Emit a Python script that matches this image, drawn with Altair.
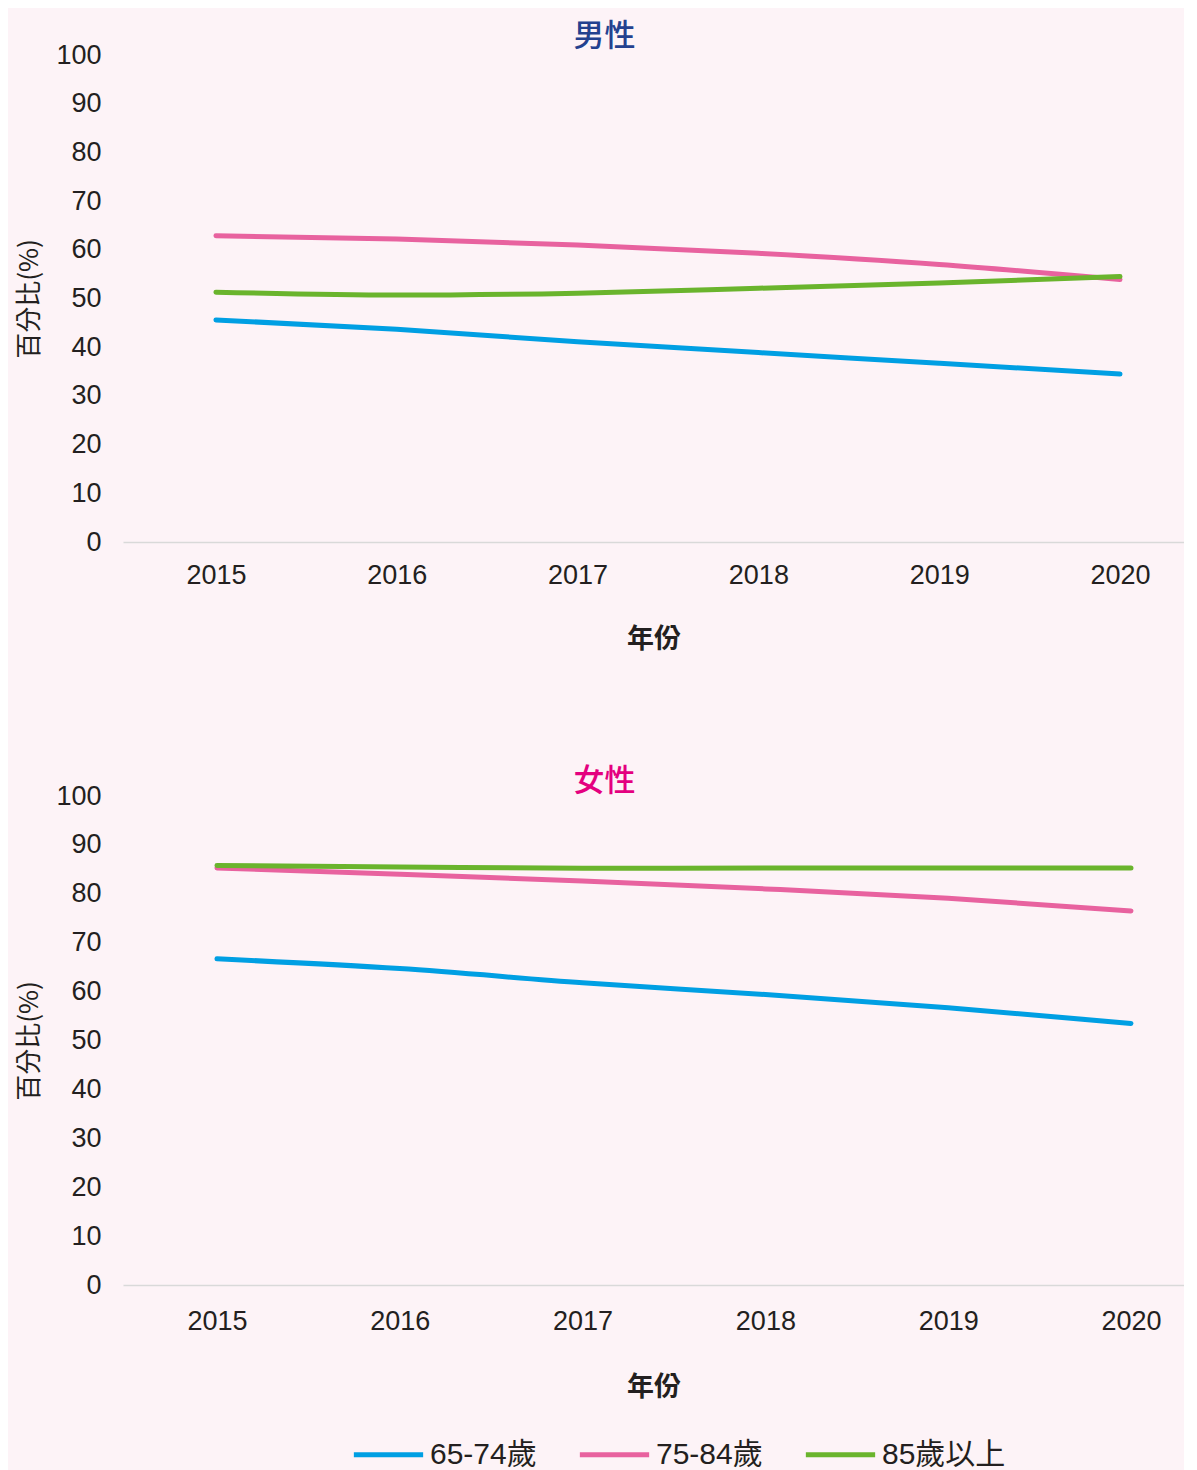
import altair as alt
import pandas as pd

years = [2015, 2016, 2017, 2018, 2019, 2020]
groups = ["65-74歲", "75-84歲", "85歲以上"]
colors = ["#009fe3", "#e8629f", "#6ab42d"]

male_65_74 = [45.6, 43.7, 41.1, 38.9, 36.7, 34.5]
male_75_84 = [62.9, 62.2, 61.0, 59.3, 57.0, 53.9]
male_85 = [51.3, 50.7, 51.1, 52.1, 53.2, 54.5]

female_65_74 = [66.7, 64.7, 61.8, 59.4, 56.7, 53.5]
female_75_84 = [85.3, 84.0, 82.6, 81.0, 79.1, 76.5]
female_85 = [85.8, 85.5, 85.2, 85.3, 85.3, 85.3]

y_ticks = list(range(0, 101, 10))

FONT = "Liberation Sans, Noto Sans CJK TC, sans-serif"
CJK = "Noto Sans CJK TC, sans-serif"


def make_df(series):
    rows = []
    for g, vals in zip(groups, series):
        for yr, v in zip(years, vals):
            rows.append({"year": yr, "value": v, "group": g})
    return pd.DataFrame(rows)


def panel(df, title, tcolor, xmax, height, toff, lpad, tpad):
    return alt.Chart(df).mark_line(
        strokeWidth=5, interpolate="monotone", strokeCap="round"
    ).encode(
        x=alt.X(
            "year:Q",
            scale=alt.Scale(domain=[2014.486, xmax], nice=False, zero=False),
            axis=alt.Axis(values=years, format="d", title="年份",
                          labelPadding=lpad, titlePadding=tpad),
        ),
        y=alt.Y(
            "value:Q",
            scale=alt.Scale(domain=[0, 100], nice=False),
            axis=alt.Axis(values=y_ticks, title="百分比(%)"),
        ),
        color=alt.Color(
            "group:N",
            sort=groups,
            scale=alt.Scale(domain=groups, range=colors),
            legend=alt.Legend(
                title=None,
                orient="none",
                direction="horizontal",
                legendX=228,
                legendY=1362,
            ),
        ),
    ).properties(
        width=1061,
        height=height,
        title=alt.TitleParams(
            text=title,
            color=tcolor,
            fontSize=31,
            fontWeight=500,
            font=CJK,
            anchor="middle",
            frame="bounds",
            offset=toff,
            dx=4,
        ),
    )


top = panel(make_df([male_65_74, male_75_84, male_85]), "男性", "#24418f",
            2020.354, 487, -12, 20, 38)
bottom = panel(make_df([female_65_74, female_75_84, female_85]), "女性", "#e4007f",
               2020.290, 489, -16, 23, 40)

chart = alt.vconcat(top, bottom, spacing=114).configure(
    background="#fdf3f7",
    padding={"left": 8, "top": 13, "right": 0, "bottom": 0},
    font=FONT,
).configure_view(
    stroke=None
).configure_axis(
    grid=False,
    ticks=False,
    labelFont=FONT,
    labelFontSize=27,
    labelColor="#231f20",
    titleFont=CJK,
    titleColor="#231f20",
).configure_axisX(
    domain=True,
    domainColor="#d9d9d9",
    domainWidth=1.5,
    titleFontSize=27,
    titleFontWeight="bold",
    labelFlush=False,
).configure_axisY(
    domain=False,
    labelPadding=22,
    titlePadding=13,
    titleFontSize=26,
    titleFontWeight="normal",
).configure_legend(
    symbolType="stroke",
    symbolSize=4800,
    symbolStrokeWidth=5,
    labelFont=FONT,
    labelFontSize=30,
    labelColor="#231f20",
    labelOffset=4,
    columnPadding=32,
    labelLimit=300,
)

chart.save("out.html", embed_options={"renderer": "svg", "actions": False})
